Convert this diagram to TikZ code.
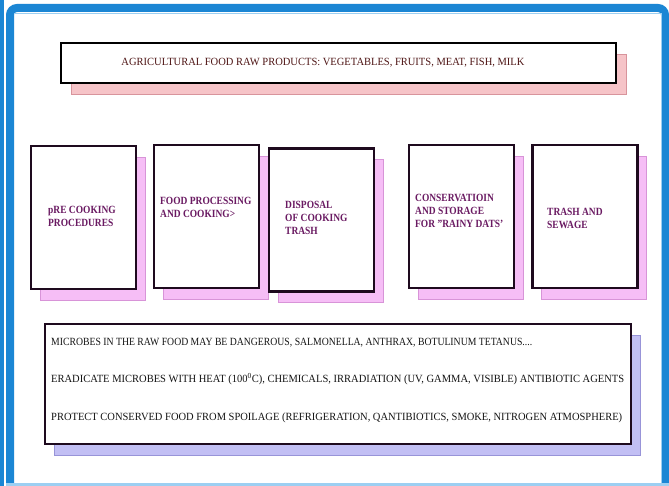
\documentclass[tikz,border=0pt]{standalone}
\usepackage{fontspec}
\setmainfont{Liberation Serif}
\usepackage{graphicx}
\usetikzlibrary{shadows}
\definecolor{fblue}{HTML}{1B86D4}
\definecolor{flight}{HTML}{9CCFF2}
\definecolor{pinkshadow}{HTML}{F6C4C8}
\definecolor{pinkedge}{HTML}{D8949C}
\definecolor{violetshadow}{HTML}{F6BEF6}
\definecolor{violetedge}{HTML}{D894D8}
\definecolor{lavshadow}{HTML}{C2BFF4}
\definecolor{lavedge}{HTML}{9894D8}
\definecolor{boxline}{HTML}{1E0A1E}
\definecolor{toptext}{HTML}{4F1616}
\definecolor{steptext}{HTML}{6A1A62}
\definecolor{bodytext}{HTML}{141414}
\newcommand{\fitw}[2]{\resizebox{#1pt}{\height}{#2}}
\newcommand{\sqz}[1]{\scalebox{0.86}[1]{#1}}
\tikzset{
  framestroke/.style={draw=fblue, line width=8pt},
  topbox/.style={draw=black, line width=2.2pt, fill=white, inner sep=0pt,
    minimum width=555pt, minimum height=40pt,
    copy shadow={shadow xshift=10pt, shadow yshift=-11pt, fill=pinkshadow, draw=pinkedge, line width=0.8pt}},
  stepbox/.style={draw=boxline, line width=2.8pt, fill=white, inner sep=0pt,
    minimum width=105pt, minimum height=143pt,
    copy shadow={shadow xshift=9pt, shadow yshift=-11pt, fill=violetshadow, draw=violetedge, line width=0.8pt}},
  notebox/.style={draw=boxline, line width=2.8pt, fill=white, inner sep=0pt,
    minimum width=586pt, minimum height=120pt,
    copy shadow={shadow xshift=9pt, shadow yshift=-11pt, fill=lavshadow, draw=lavedge, line width=0.8pt}},
  toplabel/.style={inner sep=0pt, text=toptext, font=\fontsize{11}{13}\selectfont},
  steplabel/.style={inner sep=0pt, text=steptext, align=left, anchor=west,
    font=\fontsize{11}{13}\selectfont\bfseries},
  notelabel/.style={inner sep=0pt, text=bodytext, anchor=west,
    font=\fontsize{11}{12}\selectfont}
}
\begin{document}
\begin{tikzpicture}[x=1pt,y=-1pt]
\useasboundingbox (0,0) rectangle (669,486);
\fill[white] (0,0) rectangle (669,486);
% outer frame
\draw[fblue, line width=4pt] (2,0) -- (2,486);
\draw[framestroke, rounded corners=7pt] (10,486) -- (10,8) -- (665,8) -- (665,486);
\draw[flight, line width=1pt] (14,13.5) -- (661.5,13.5) -- (661.5,482.5);
\draw[flight, line width=3pt] (6,484.5) -- (669,484.5);
% top box
\node[topbox] (top) at (338.5,63) {};
\node[toplabel] (toptxt) at (323,63) {\fitw{403}{AGRICULTURAL FOOD RAW PRODUCTS: VEGETABLES, FRUITS, MEAT, FISH, MILK}};
% step boxes
\node[stepbox] (b1) at (83.5,217.5) {};
\node[stepbox] (b2) at (206.5,216.5) {};
\node[stepbox] (b3) at (321.5,220) {};
\node[stepbox] (b4) at (461.5,216.5) {};
\node[stepbox] (b5) at (585,216.5) {};
\node[steplabel] (t1) at (48,216) {\sqz{pRE COOKING}\\\sqz{PROCEDURES}};
\node[steplabel] (t2) at (160,207) {\sqz{FOOD PROCESSING}\\\sqz{AND COOKING>}};
\node[steplabel] (t3) at (285,218) {\sqz{DISPOSAL}\\\sqz{OF COOKING}\\\sqz{TRASH}};
\node[steplabel] (t4) at (415,211) {\sqz{CONSERVATIOIN}\\\sqz{AND STORAGE}\\\sqz{FOR \symbol{34}RAINY DATS'}};
\node[steplabel] (t5) at (547,218) {\sqz{TRASH AND}\\\sqz{SEWAGE}};
% bottom box
\node[notebox] (notes) at (338,384) {};
\node[notelabel] (m1) at (51,343) {\fitw{481}{MICROBES IN THE RAW FOOD MAY BE DANGEROUS, SALMONELLA, ANTHRAX, BOTULINUM TETANUS....}};
\node[notelabel] (m2) at (51,379) {\fitw{573}{ERADICATE MICROBES WITH HEAT (100\textsuperscript{0}C), CHEMICALS, IRRADIATION (UV, GAMMA, VISIBLE) ANTIBIOTIC AGENTS}};
\node[notelabel] (m3) at (51,418) {\fitw{571}{PROTECT CONSERVED FOOD FROM SPOILAGE (REFRIGERATION, QANTIBIOTICS, SMOKE, NITROGEN ATMOSPHERE)}};
\end{tikzpicture}
\end{document}
